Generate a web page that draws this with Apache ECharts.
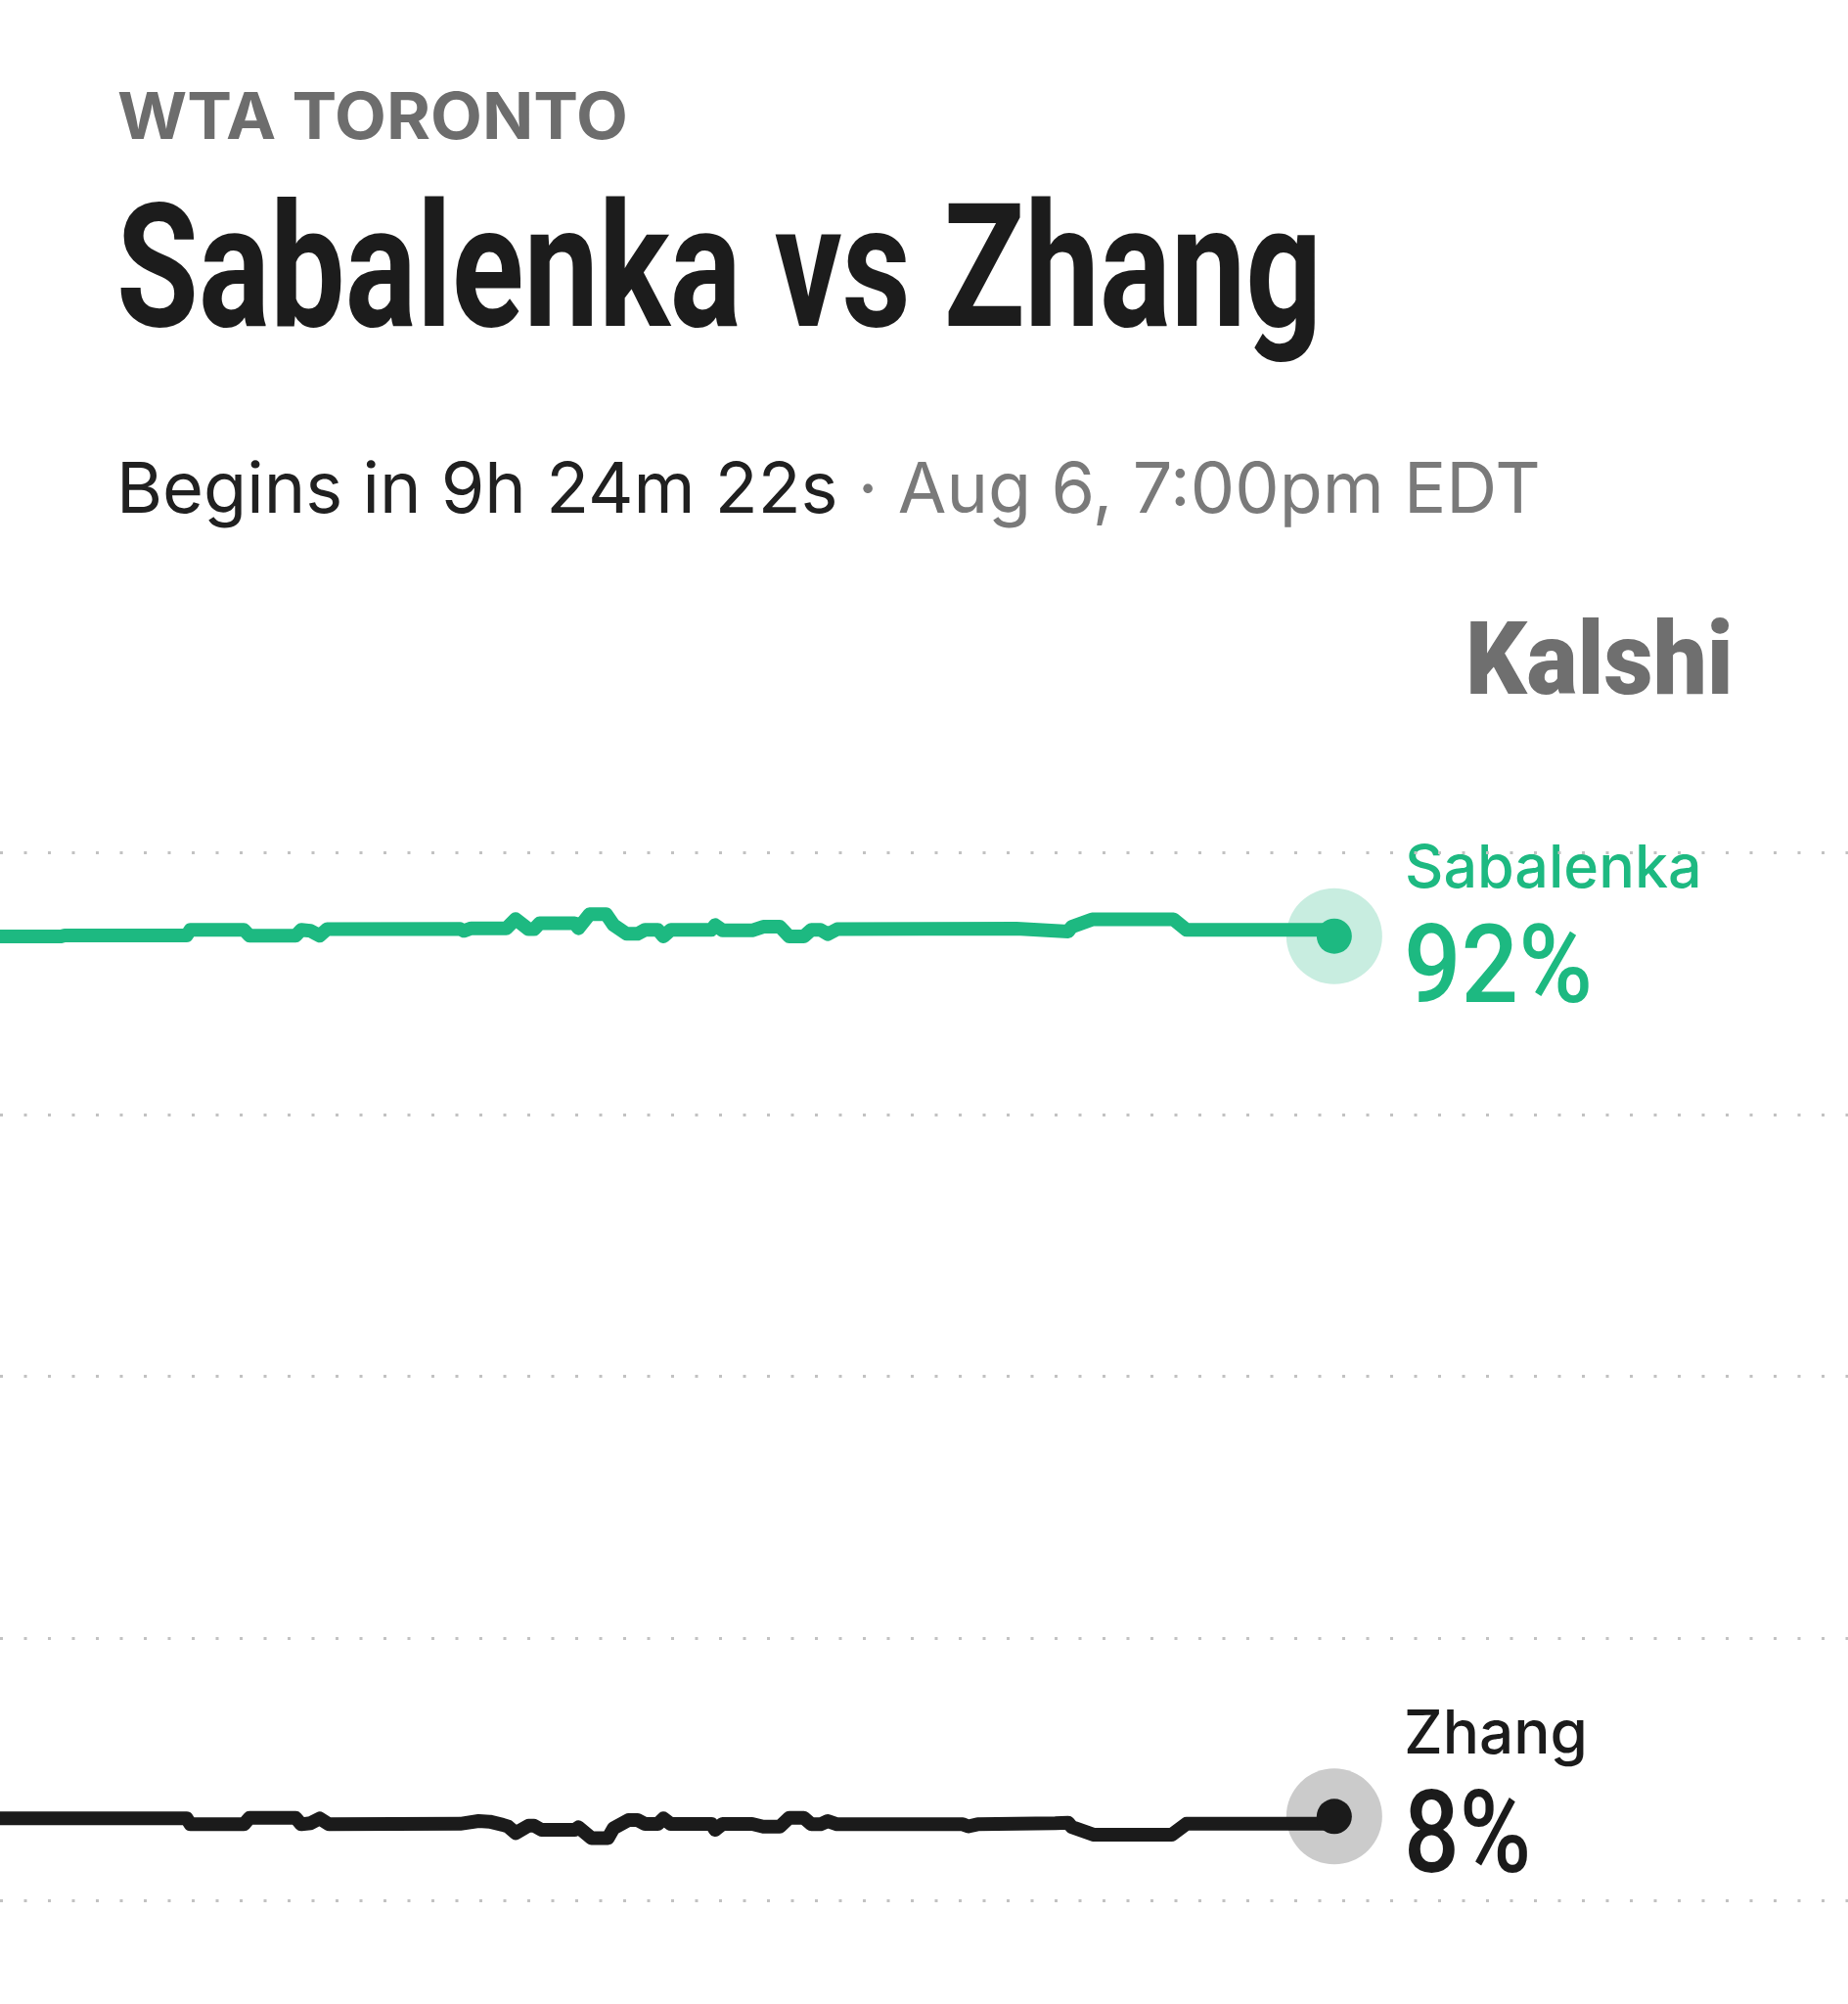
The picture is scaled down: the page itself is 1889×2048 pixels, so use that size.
<!DOCTYPE html>
<html>
<head>
<meta charset="utf-8">
<script src="https://cdn.jsdelivr.net/npm/echarts@6/dist/echarts.min.js"></script>
<style>
html,body{margin:0;padding:0;background:#ffffff;}
#chart{width:1889px;height:2048px;}
</style>
</head>
<body>
<div id="chart"></div>
<script>
// ---- data ----
const eventLabel = 'WTA TORONTO';
const matchTitle = 'Sabalenka vs Zhang';
const countdownText = 'Begins in 9h 24m 22s';
const scheduleText = ' · Aug 6, 7:00pm EDT';
const brandText = 'Kalshi';
const playerNames = ['Sabalenka', 'Zhang'];
const finalChances = [92, 8];
const yTicks = [0, 25, 50, 75, 100];

// time in minutes since the start of the shown window
const sabTimes = [0, 33, 35, 101, 103, 132, 135, 160, 163, 168, 173, 177, 249, 251, 255, 274, 279, 286, 289, 292, 311, 313, 319, 328, 332, 339, 345, 349, 356, 359, 363, 385, 387, 391, 407, 413, 422, 427, 435, 439, 444, 448, 453, 550, 571, 578, 580, 591, 635, 642, 722];
const sabValues = [91.97, 91.97, 92.06, 92.06, 92.6, 92.6, 92.04, 92.04, 92.6, 92.5, 92.04, 92.66, 92.69, 92.5, 92.75, 92.75, 93.62, 92.66, 92.66, 93.22, 93.22, 92.75, 94.09, 94.09, 93.06, 92.22, 92.22, 92.6, 92.6, 91.97, 92.6, 92.6, 93.06, 92.55, 92.55, 92.9, 92.9, 91.97, 91.97, 92.6, 92.6, 92.19, 92.66, 92.72, 92.5, 92.44, 92.9, 93.6, 93.6, 92.6, 92.6];

const zhaTimes = [0, 101, 103, 132, 135, 160, 163, 168, 173, 178, 249, 259, 265, 272, 275, 279, 286, 289, 293, 311, 313, 320, 329, 332, 340, 345, 349, 356, 359, 363, 385, 387, 391, 407, 413, 422, 427, 435, 439, 444, 448, 453, 521, 524, 529, 571, 578, 580, 592, 634, 642, 722];
const zhaValues = [7.81, 7.81, 7.25, 7.25, 7.87, 7.87, 7.25, 7.35, 7.81, 7.25, 7.3, 7.56, 7.5, 7.2, 7.03, 6.41, 7.12, 7.12, 6.72, 6.72, 6.97, 5.94, 5.94, 6.88, 7.65, 7.65, 7.28, 7.28, 7.81, 7.28, 7.28, 6.72, 7.28, 7.28, 7.03, 7.03, 7.87, 7.87, 7.25, 7.25, 7.56, 7.25, 7.25, 7.05, 7.25, 7.35, 7.4, 7.0, 6.25, 6.25, 7.3, 7.3];

// ---- styles ----
const GREEN = '#1db981';
const GREEN_HALO = '#c8ede0';
const DARK = '#1b1b1b';
const GRAY_HALO = '#cbcbcb';
const LINE_W = 14;

const sabData = sabTimes.map((t, i) => [t, sabValues[i]]);
const zhaData = zhaTimes.map((t, i) => [t, zhaValues[i]]);
const lastT = sabTimes[sabTimes.length - 1];
const endPoints = [
  { value: [lastT, finalChances[0]], c: GREEN, h: GREEN_HALO },
  { value: [lastT, finalChances[1]], c: DARK, h: GRAY_HALO }
];

const chart = echarts.init(document.getElementById('chart'), null, { renderer: 'canvas' });

const FONT = 'Roboto, "Noto Sans", sans-serif';
const SANS = 'Inter, Roboto, sans-serif';

chart.setOption({
  backgroundColor: '#ffffff',
  animation: false,
  grid: { left: 0, right: 0, top: 871, height: 1071 },
  xAxis: { type: 'value', min: 0, max: 1000, show: false },
  yAxis: {
    type: 'value', min: yTicks[0], max: yTicks[yTicks.length - 1], interval: 25,
    axisLine: { show: false }, axisTick: { show: false }, axisLabel: { show: false },
    splitLine: { show: true, showMinLine: true, showMaxLine: true,
      lineStyle: { color: '#c2c2c2', width: 3, type: [3, 21.5] } }
  },
  series: [
    {
      type: 'scatter', z: 1, silent: true, symbolSize: 98,
      itemStyle: { opacity: 1 },
      data: endPoints.map(p => ({ value: p.value, itemStyle: { color: p.h, opacity: 1 } }))
    },
    {
      name: playerNames[0], type: 'line', z: 2, data: sabData, showSymbol: false, silent: true,
      itemStyle: { color: GREEN },
      lineStyle: { color: GREEN, width: LINE_W, opacity: 1, join: 'round', cap: 'round' }
    },
    {
      name: playerNames[1], type: 'line', z: 2, data: zhaData, showSymbol: false, silent: true,
      itemStyle: { color: DARK },
      lineStyle: { color: DARK, width: LINE_W, opacity: 1, join: 'round', cap: 'round' }
    },
    {
      type: 'scatter', z: 3, silent: true, symbolSize: 36,
      itemStyle: { opacity: 1 },
      data: endPoints.map(p => ({ value: p.value, itemStyle: { color: p.c, opacity: 1 } }))
    }
  ],
  graphic: [
    { type: 'text', x: 120, y: 122, scaleX: 1.04, style: { text: eventLabel, x: 0, y: 0, fill: '#6d6d6d',
      font: 'bold 66px ' + SANS, verticalAlign: 'middle' } },
    { type: 'text', x: 119, y: 289, scaleX: 0.775, style: { text: matchTitle, x: 0, y: 0, fill: '#1c1c1c',
      font: 'bold 176px ' + FONT, verticalAlign: 'middle' } },
    { type: 'text', x: 119, y: 502, style: { x: 0, y: 0, verticalAlign: 'middle',
      text: '{a|' + countdownText + '}{b|' + scheduleText + '}',
      rich: {
        a: { fill: '#202020', font: '400 72px ' + SANS },
        b: { fill: '#7a7a7a', font: '400 72px ' + SANS }
      } } },
    { type: 'text', x: 1498, y: 683, scaleX: 0.95, style: { text: brandText, x: 0, y: 0, fill: '#6f6f6f',
      font: '900 103px ' + FONT, verticalAlign: 'middle' } },
    { type: 'text', x: 1436, y: 889, style: { text: playerNames[0], x: 0, y: 0, fill: GREEN,
      font: '500 61px ' + SANS, verticalAlign: 'middle' } },
    { type: 'text', x: 1435, y: 996, scaleX: 0.92, style: { text: finalChances[0] + '%', x: 0, y: 0, fill: GREEN,
      font: '500 112px ' + FONT, verticalAlign: 'middle' } },
    { type: 'text', x: 1435, y: 1773, style: { text: playerNames[1], x: 0, y: 0, fill: DARK,
      font: '500 62px ' + SANS, verticalAlign: 'middle' } },
    { type: 'text', x: 1435, y: 1884, scaleX: 0.86, style: { text: finalChances[1] + '%', x: 0, y: 0, fill: DARK,
      font: '500 116px ' + FONT, verticalAlign: 'middle' } }
  ]
});
</script>
</body>
</html>
